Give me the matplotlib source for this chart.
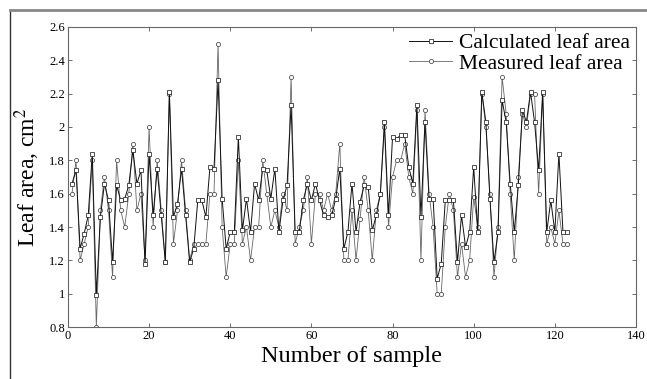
import matplotlib

matplotlib.use("Agg")
import matplotlib.pyplot as plt
from matplotlib.lines import Line2D

# sample numbers 1..123
SAMPLES = list(range(1, 124))

CALCULATED = [
    1.66, 1.74, 1.27, 1.36, 1.47, 1.84, 0.99, 1.46, 1.66, 1.56,
    1.19, 1.65, 1.56, 1.57, 1.65, 1.86, 1.66, 1.74, 1.18, 1.84,
    1.47, 1.75, 1.47, 1.19, 2.21, 1.46, 1.54, 1.75, 1.47, 1.19,
    1.27, 1.56, 1.56, 1.46, 1.76, 1.75, 2.28, 1.57, 1.27, 1.37,
    1.37, 1.94, 1.38, 1.57, 1.37, 1.66, 1.56, 1.75, 1.74, 1.57,
    1.75, 1.37, 1.56, 1.65, 2.13, 1.37, 1.37, 1.56, 1.66, 1.56,
    1.66, 1.56, 1.47, 1.46, 1.47, 1.57, 1.75, 1.27, 1.37, 1.66,
    1.37, 1.55, 1.65, 1.64, 1.38, 1.47, 1.60, 2.03, 1.47, 1.94,
    1.93, 1.95, 1.95, 1.76, 1.66, 2.13, 1.46, 2.03, 1.57, 1.57,
    1.09, 1.18, 1.56, 1.56, 1.56, 1.19, 1.47, 1.28, 1.37, 1.76,
    1.37, 2.21, 2.03, 1.57, 1.19, 1.37, 2.16, 2.03, 1.66, 1.37,
    1.65, 2.10, 2.03, 2.21, 2.03, 1.74, 2.21, 1.37, 1.56, 1.37,
    1.84, 1.37, 1.37,
]

MEASURED = [
    1.60, 1.80, 1.20, 1.30, 1.40, 1.80, 0.80, 1.50, 1.70, 1.50,
    1.10, 1.80, 1.50, 1.40, 1.60, 1.90, 1.50, 1.60, 1.20, 2.00,
    1.40, 1.80, 1.50, 1.19, 2.20, 1.30, 1.50, 1.80, 1.50, 1.20,
    1.30, 1.30, 1.30, 1.30, 1.60, 1.60, 2.50, 1.40, 1.10, 1.30,
    1.30, 1.80, 1.30, 1.40, 1.20, 1.40, 1.40, 1.80, 1.60, 1.40,
    1.50, 1.40, 1.60, 1.50, 2.30, 1.30, 1.40, 1.50, 1.70, 1.30,
    1.60, 1.60, 1.50, 1.60, 1.50, 1.60, 1.90, 1.20, 1.20, 1.50,
    1.20, 1.45, 1.70, 1.50, 1.20, 1.50, 1.60, 2.00, 1.40, 1.70,
    1.80, 1.80, 1.90, 1.70, 1.60, 2.10, 1.20, 2.10, 1.60, 1.40,
    1.00, 1.00, 1.40, 1.60, 1.50, 1.10, 1.30, 1.10, 1.20, 1.58,
    1.40, 2.20, 2.00, 1.60, 1.10, 1.40, 2.30, 2.08, 1.60, 1.20,
    1.70, 2.08, 2.00, 2.20, 2.20, 1.60, 2.20, 1.30, 1.40, 1.30,
    1.50, 1.30, 1.30,
]

X_TICKS = [0, 20, 40, 60, 80, 100, 120, 140]
Y_TICKS = [0.8, 1.0, 1.2, 1.4, 1.6, 1.8, 2.0, 2.2, 2.4, 2.6]
Y_TICK_LABELS = ["0.8", "1", "1.2", "1.4", "1.6", "1.8", "2", "2.2", "2.4", "2.6"]

plt.rcParams["font.family"] = ["Liberation Serif", "DejaVu Serif"]
plt.rcParams["mathtext.fontset"] = "stix"

fig = plt.figure(figsize=(6.47, 3.79), dpi=100)
ax = fig.add_axes([0.105, 0.137, 0.878, 0.792])

ax.plot(SAMPLES, CALCULATED, color="#111111", lw=0.7, marker="s", ms=3.2,
        mfc="white", mec="#222222", mew=0.55, label="Calculated leaf area", zorder=3)
ax.plot(SAMPLES, MEASURED, color="#666666", lw=0.6, marker="o", ms=3.0,
        mfc="white", mec="#444444", mew=0.55, label="Measured leaf area", zorder=2)

ax.set_xlim(0, 140)
ax.set_ylim(0.8, 2.6)
ax.set_xticks(X_TICKS)
ax.set_yticks(Y_TICKS)
ax.set_yticklabels(Y_TICK_LABELS)
ax.tick_params(direction="in", top=True, right=True, length=3, width=0.6,
               labelsize=9, color="#555555", pad=2)
for sp in ax.spines.values():
    sp.set_color("#666666")
    sp.set_linewidth(0.8)

ax.set_xlabel("Number of sample", fontsize=17.5, labelpad=3)
ax.set_ylabel("Leaf area, cm$^2$", fontsize=17, labelpad=5)

leg = ax.legend(loc="upper right", frameon=False, fontsize=15.5, handlelength=2.0,
                handletextpad=0.3, labelspacing=0.0, borderaxespad=0.1,
                borderpad=0.2)

# scan frame around the figure
fig.add_artist(Line2D([10 / 647, 10 / 647], [0, 1 - 10 / 379], transform=fig.transFigure,
                      color="#333333", lw=1.0))
fig.add_artist(Line2D([10 / 647, 1], [1 - 10 / 379, 1 - 10 / 379], transform=fig.transFigure,
                      color="#888888", lw=2.0))

fig.savefig("out.png", dpi=100)
